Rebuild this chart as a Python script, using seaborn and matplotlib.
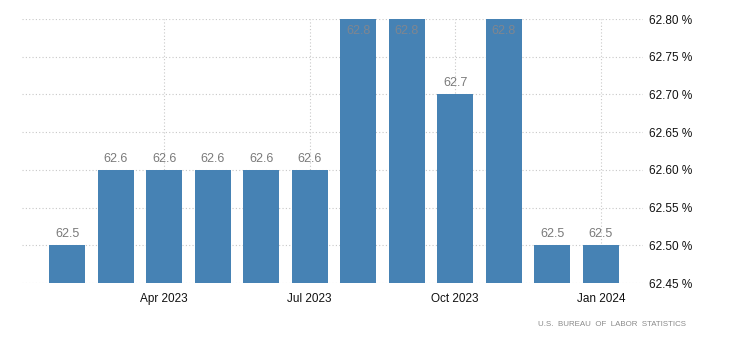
import pandas as pd
import matplotlib.pyplot as plt
import seaborn as sns

# Data
months = ['Feb 2023', 'Mar 2023', 'Apr 2023', 'May 2023', 'Jun 2023', 'Jul 2023',
          'Aug 2023', 'Sep 2023', 'Oct 2023', 'Nov 2023', 'Dec 2023', 'Jan 2024']
rate = [62.5, 62.6, 62.6, 62.6, 62.6, 62.6, 62.8, 62.8, 62.7, 62.8, 62.5, 62.5]
tick_months = ['Apr 2023', 'Jul 2023', 'Oct 2023', 'Jan 2024']
y_ticks = [62.45, 62.50, 62.55, 62.60, 62.65, 62.70, 62.75, 62.80]

df = pd.DataFrame({'month': months, 'rate': rate})

sns.set_style('white')
plt.rcParams['font.family'] = ['Liberation Sans', 'DejaVu Sans']

fig = plt.figure(figsize=(7.3, 3.51), dpi=100)
ax = fig.add_axes([22 / 730, 1 - 283 / 351, (643 - 22) / 730, (283 - 19) / 351])

sns.barplot(data=df, x='month', y='rate', color='#4682b4', saturation=1,
            width=0.74, linewidth=0, ax=ax, zorder=3)

ax.set_ylim(62.45, 62.80)
ax.set_xlim(-0.93, 11.87)
ax.set_yticks(y_ticks)
ax.set_yticklabels([f'{v:.2f} %' for v in y_ticks], fontsize=8.5, color='#111111')
ax.yaxis.tick_right()
ax.tick_params(axis='y', length=0, pad=4)

pos = [months.index(m) for m in tick_months]
ax.set_xticks(pos)
ax.set_xticklabels(tick_months, fontsize=8.5, color='#111111')
ax.tick_params(axis='x', length=4, color='#cccccc', pad=3)

ax.set_xlabel('')
ax.set_ylabel('')
ax.grid(True, axis='both', linestyle=(0, (1, 2)), color='#c8c8c8', linewidth=0.8, zorder=0)
ax.set_axisbelow(True)
for s in ax.spines.values():
    s.set_visible(False)

# value labels
for i, v in enumerate(rate):
    if v >= 62.8:
        ax.text(i, 62.8 - 0.008, f'{v:.1f}', ha='center', va='top', fontsize=9,
                color='#7f8690', zorder=4)
    else:
        ax.text(i, v + 0.007, f'{v:.1f}', ha='center', va='bottom', fontsize=9,
                color='#7a7a7a', zorder=4)

fig.text(686 / 730, 1 - 325 / 351, 'U.S.  BUREAU  OF  LABOR  STATISTICS', ha='right',
         va='center', fontsize=5.7, color='#8a8a8a')

fig.savefig('out.png', dpi=100)
